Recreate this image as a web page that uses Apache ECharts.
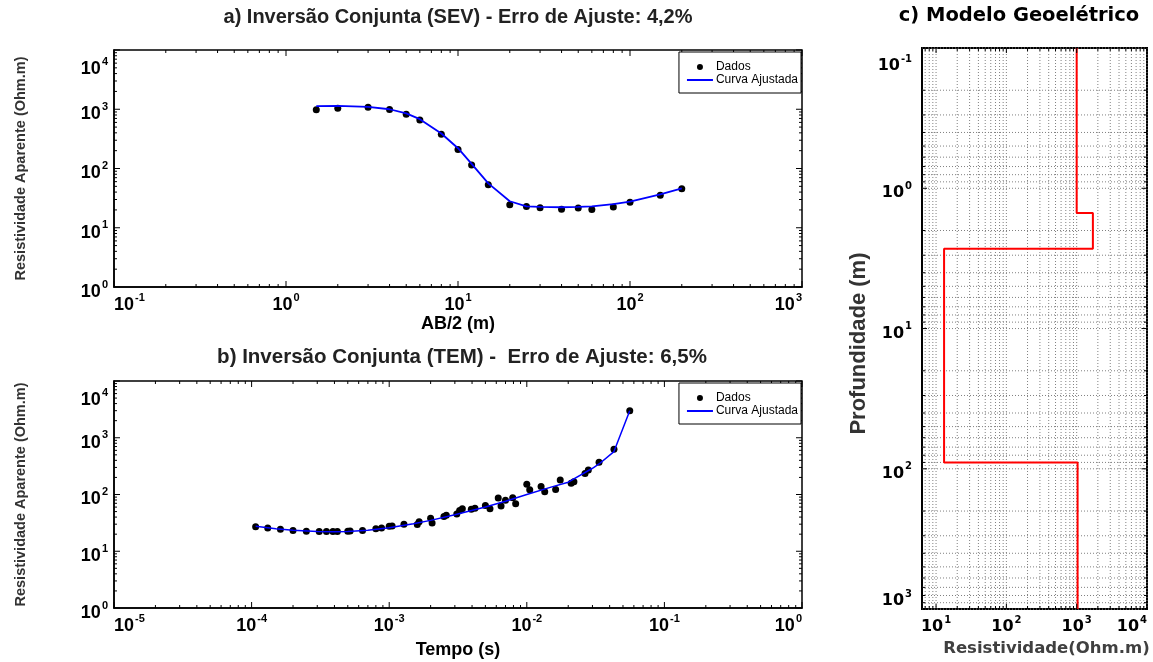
<!DOCTYPE html>
<html><head><meta charset="utf-8">
<script src="https://cdn.jsdelivr.net/npm/echarts@6/dist/echarts.min.js"></script>
<style>html,body{margin:0;padding:0;background:#fff}#c{width:1153px;height:662px}</style>
</head><body><div id="c"></div>
<script>
// ---- Data: (a) SEV ----
const sevAB = [1.5, 2, 3, 4, 5, 6, 8, 10, 12, 15, 20, 25, 30, 40, 50, 60, 80, 100, 150, 200];
const sevRho = [980, 1040, 1080, 990, 820, 660, 380, 210, 115, 53, 24.5, 22.8, 21.8, 20.5, 21.5, 20.3, 22.5, 27, 35.5, 45.5];
const sevFitRho = [1130, 1140, 1100, 1000, 850, 680, 390, 220, 120, 56, 28, 23, 22.5, 22.2, 22.5, 23, 25, 27.5, 36.5, 46];
// ---- Data: (b) TEM ----
const temTime = [1.07e-4, 1.31e-4, 1.62e-4, 2.0e-4, 2.5e-4, 3.1e-4, 3.5e-4, 3.9e-4, 4.2e-4, 5.0e-4, 5.2e-4, 6.4e-4, 8.0e-4, 8.8e-4,
  1.0e-3, 1.05e-3, 1.28e-3, 1.6e-3, 1.65e-3, 2.0e-3, 2.05e-3, 2.5e-3, 2.6e-3, 3.1e-3, 3.25e-3, 3.4e-3, 3.95e-3, 4.2e-3,
  5.0e-3, 5.4e-3, 6.2e-3, 6.5e-3, 7.0e-3, 7.9e-3, 8.3e-3, 1.0e-2, 1.05e-2, 1.27e-2, 1.35e-2, 1.62e-2, 1.75e-2, 2.1e-2,
  2.2e-2, 2.65e-2, 2.8e-2, 3.35e-2, 4.3e-2, 5.6e-2];
const temRho = [27, 25.7, 24.3, 23.3, 22.4, 22.2, 22.2, 22.3, 22.3, 22.6, 22.8, 23.3, 25, 25.8,
  27.5, 27.8, 30, 29.5, 33, 38, 31.5, 41, 43, 45.5, 52, 56, 55, 57,
  64, 56, 87, 63, 79, 88, 69, 152, 121, 138, 112, 123, 180, 158,
  168, 235, 270, 370, 630, 3000];
const temFitTime = [1.07e-4, 1.5e-4, 2e-4, 3e-4, 4e-4, 5e-4, 7e-4, 1e-3, 1.5e-3, 2e-3, 3e-3, 5e-3, 7e-3, 1e-2, 1.5e-2, 2e-2, 3e-2, 3.35e-2, 4.3e-2, 5.6e-2];
const temFitRho = [27.5, 25, 23.5, 22.3, 22, 22.2, 23.5, 26, 30.5, 35, 44, 60, 76, 100, 135, 165, 290, 345, 570, 3000];
// ---- Data: (c) geoelectric model ----
const layerRho = [1000, 1700, 13, 1030];
const layerTop = [0.1, 1.5, 2.7, 90];
const modelBottom = 1000;
// ---- Axis ranges ----
const sevX = [0.1, 1000], sevY = [1, 1e4];
const temX = [1e-5, 1], temY = [1, 1e4];
const modX = [6.31, 1e4], modY = [0.1, 1000];

const FF = "'Liberation Sans', Arial, Helvetica, sans-serif";
const FD = "'DejaVu Sans', 'Liberation Sans', sans-serif";

function logVals(min, max) {
  const major = [], minor = [];
  for (let k = Math.floor(Math.log10(min)) - 1; k <= Math.ceil(Math.log10(max)); k++) {
    for (let m = 1; m <= 9; m++) {
      const v = m * Math.pow(10, k);
      if (v < min * 0.9999 || v > max * 1.0001) continue;
      (m === 1 ? major : minor).push(v);
    }
  }
  return { major, minor };
}
function supFmt(v) {
  const l = Math.log10(v), e = Math.round(l);
  if (Math.abs(l - e) > 1e-6) return '';
  return '{b|10}{s|' + e + '}';
}
function richFor(ff, big, small) {
  return {
    b: { fontSize: big, fontWeight: 'bold', fontFamily: ff, color: '#000', lineHeight: big + 4, verticalAlign: 'bottom' },
    s: { fontSize: small, fontWeight: 'bold', fontFamily: ff, color: '#000', lineHeight: small + 1, verticalAlign: 'top', padding: [0, 0, 0, 1] }
  };
}
// inward ticks on the four sides, drawn as thin rect symbols placed through the axes
// sides: [value at bottom, value at top] for x ticks, [value at left, value at right] for y ticks
function tickSeries(gi, dim, range, sides, majLen, minLen) {
  const v = logVals(range[0], range[1]);
  const data = [];
  const add = (val, len) => {
    if (dim === 'x') {
      data.push({ value: [val, sides[0]], symbolSize: [1, len], symbolOffset: [0, -len / 2] });
      data.push({ value: [val, sides[1]], symbolSize: [1, len], symbolOffset: [0, len / 2] });
    } else {
      data.push({ value: [sides[0], val], symbolSize: [len, 1], symbolOffset: [len / 2, 0] });
      data.push({ value: [sides[1], val], symbolSize: [len, 1], symbolOffset: [-len / 2, 0] });
    }
  };
  v.major.forEach(x => add(x, majLen));
  v.minor.forEach(x => add(x, minLen));
  return { type: 'scatter', xAxisIndex: gi, yAxisIndex: gi, silent: true, clip: false, z: 5, symbol: 'rect',
    itemStyle: { color: '#000', opacity: 1 }, data };
}
function gridLineSeries(gi, dim, range, other) {
  const v = logVals(range[0], range[1]);
  const data = v.major.concat(v.minor).map(x => dim === 'x' ? [x, other] : [other, x]);
  return {
    type: 'custom', xAxisIndex: gi, yAxisIndex: gi, silent: true, z: 1, data,
    renderItem(params, api) {
      const cs = params.coordSys;
      const p = api.coord([api.value(0), api.value(1)]);
      const st = { stroke: '#808080', lineWidth: 1, lineDash: [1, 2] };
      if (dim === 'x') return { type: 'line', shape: { x1: p[0], y1: cs.y, x2: p[0], y2: cs.y + cs.height }, style: st };
      return { type: 'line', shape: { x1: cs.x, y1: p[1], x2: cs.x + cs.width, y2: p[1] }, style: st };
    }
  };
}

const modelPath = [];
layerRho.forEach((r, i) => {
  const bottom = i + 1 < layerTop.length ? layerTop[i + 1] : modelBottom;
  modelPath.push([r, layerTop[i]]);
  modelPath.push([r, bottom]);
});

function logAxis(gi, range, name, gap, ff, big, small, margin, lw, extraLabel) {
  return {
    type: 'log', gridIndex: gi, min: range[0], max: range[1], logBase: 10,
    name, nameLocation: 'middle', nameGap: gap,
    axisLine: { show: true, onZero: false, lineStyle: { color: '#000', width: lw } },
    axisTick: { show: false }, splitLine: { show: false },
    axisLabel: Object.assign({ formatter: supFmt, rich: richFor(ff, big, small), margin, showMinLabel: true, showMaxLabel: true, hideOverlap: false }, extraLabel || {})
  };
}

const chart = echarts.init(document.getElementById('c'));
const legendBase = {
  orient: 'vertical', backgroundColor: '#fff', borderColor: '#000', borderWidth: 1, borderRadius: 0,
  padding: [9, 3, 7, 8], itemGap: 1, itemWidth: 26, itemHeight: 6, selectedMode: false, z: 10,
  textStyle: { fontSize: 12, fontFamily: FF, color: '#000', lineHeight: 12, padding: [0, 0, 0, -2] },
  data: [{ name: 'Dados', icon: 'circle' }, { name: 'Curva Ajustada', icon: 'path://M0,0L26,0L26,2L0,2Z' }]
};
const ylabStyle = { fontSize: 14.5, fontWeight: 'bold', fontFamily: FF, color: '#333' };
const xNameStyle = { fontSize: 18, fontWeight: 'bold', fontFamily: FF, color: '#000' };
const box = { show: true, borderColor: '#000', backgroundColor: 'transparent' };
chart.setOption({
  animation: false,
  backgroundColor: '#fff',
  grid: [
    Object.assign({ left: 114, top: 50, width: 688, height: 237, borderWidth: 1.5 }, box),
    Object.assign({ left: 114, top: 381, width: 688, height: 227, borderWidth: 1.5 }, box),
    Object.assign({ left: 922, top: 48, width: 225, height: 564, borderWidth: 2 }, box)
  ],
  graphic: [
    { type: 'text', x: 458, y: 17, style: { text: 'a) Inversão Conjunta (SEV) - Erro de Ajuste: 4,2%', font: 'bold 20px ' + FF, fill: '#222', align: 'center', verticalAlign: 'middle' } },
    { type: 'text', x: 462, y: 357, style: { text: 'b) Inversão Conjunta (TEM) -  Erro de Ajuste: 6,5%', font: 'bold 20.5px ' + FF, fill: '#222', align: 'center', verticalAlign: 'middle' } },
    { type: 'text', x: 1019, y: 16, style: { text: 'c) Modelo Geoelétrico', font: 'bold 19.5px ' + FD, fill: '#000', align: 'center', verticalAlign: 'middle' } }
  ],
  legend: [
    Object.assign({}, legendBase, { right: 352, top: 52 }),
    Object.assign({}, legendBase, { right: 352, top: 383 })
  ],
  xAxis: [
    Object.assign(logAxis(0, sevX, 'AB/2 (m)', 27, FF, 18, 11, 5, 1.5, { alignMinLabel: 'left', alignMaxLabel: 'right' }), { nameTextStyle: xNameStyle }),
    Object.assign(logAxis(1, temX, 'Tempo (s)', 33, FF, 18, 11, 5, 1.5, { alignMinLabel: 'left', alignMaxLabel: 'right' }), { nameTextStyle: xNameStyle }),
    Object.assign(logAxis(2, modX, 'Resistividade(Ohm.m)', 30, FD, 16, 10, 6, 2, { alignMaxLabel: 'right' }),
      { nameTextStyle: { fontSize: 16.5, fontWeight: 'bold', fontFamily: FD, color: '#404040', padding: [0, 0, 0, 24] } })
  ],
  yAxis: [
    Object.assign(logAxis(0, sevY, 'Resistividade Aparente (Ohm.m)', 86, FF, 18, 11, 6, 1.5, { padding: [6, 0, 0, 0], verticalAlignMaxLabel: 'top' }), { nameRotate: 90, nameTextStyle: ylabStyle }),
    Object.assign(logAxis(1, temY, 'Resistividade Aparente (Ohm.m)', 86, FF, 18, 11, 6, 1.5, { padding: [6, 0, 0, 0], verticalAlignMaxLabel: 'top' }), { nameRotate: 90, nameTextStyle: ylabStyle }),
    Object.assign(logAxis(2, modY, 'Profundidade (m)', 52, FD, 16, 10, 10, 2, { padding: [6, 0, 0, 0], verticalAlignMinLabel: 'top', verticalAlignMaxLabel: 'bottom' }), { inverse: true, nameRotate: 90,
      nameTextStyle: { fontSize: 22, fontWeight: 'bold', fontFamily: FF, color: '#333', padding: [0, 30, 0, 0] } })
  ],
  series: [
    { name: 'Dados', type: 'scatter', xAxisIndex: 0, yAxisIndex: 0, symbolSize: 7, itemStyle: { color: '#000', opacity: 1 }, z: 3,
      data: sevAB.map((x, i) => [x, sevRho[i]]) },
    { name: 'Curva Ajustada', type: 'line', xAxisIndex: 0, yAxisIndex: 0, symbol: 'none', lineStyle: { color: '#0000ff', width: 1.8 }, itemStyle: { color: '#0000ff' }, z: 4,
      data: sevAB.map((x, i) => [x, sevFitRho[i]]) },
    { name: 'Dados', type: 'scatter', xAxisIndex: 1, yAxisIndex: 1, symbolSize: 7, itemStyle: { color: '#000', opacity: 1 }, z: 3,
      data: temTime.map((x, i) => [x, temRho[i]]) },
    { name: 'Curva Ajustada', type: 'line', xAxisIndex: 1, yAxisIndex: 1, symbol: 'none', lineStyle: { color: '#0000ff', width: 1.5 }, itemStyle: { color: '#0000ff' }, z: 4,
      data: temFitTime.map((x, i) => [x, temFitRho[i]]) },
    gridLineSeries(2, 'x', modX, 10),
    gridLineSeries(2, 'y', modY, 100),
    { name: 'Modelo', type: 'line', xAxisIndex: 2, yAxisIndex: 2, symbol: 'none', lineStyle: { color: '#ff0000', width: 2 }, z: 4, data: modelPath },
    tickSeries(0, 'x', sevX, [sevY[0], sevY[1]], 6, 3),
    tickSeries(0, 'y', sevY, [sevX[0], sevX[1]], 6, 3),
    tickSeries(1, 'x', temX, [temY[0], temY[1]], 6, 3),
    tickSeries(1, 'y', temY, [temX[0], temX[1]], 6, 3),
    tickSeries(2, 'x', modX, [modY[1], modY[0]], 5, 3),
    tickSeries(2, 'y', modY, [modX[0], modX[1]], 5, 3)
  ]
});
</script></body></html>
